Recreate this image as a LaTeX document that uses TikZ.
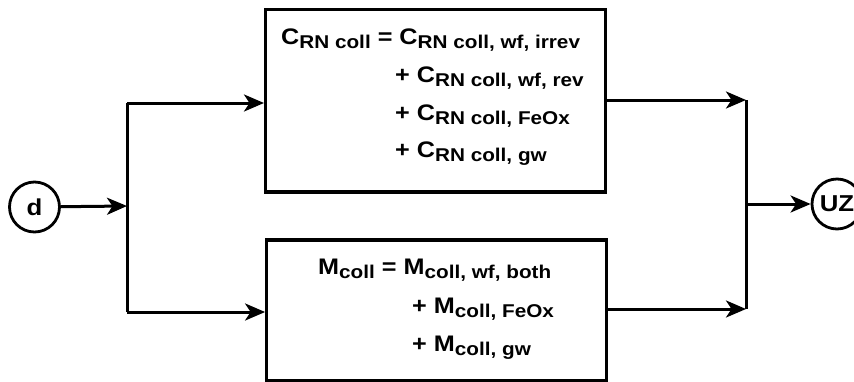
\documentclass[tikz,border=0pt]{standalone}
\usepackage{fontspec}
\setmainfont{Liberation Sans}[FakeStretch=1.12]
\usetikzlibrary{arrows.meta}
% lowered, smaller subscript text set in the same bold face
\newcommand\lowsub[1]{\raisebox{-4pt}{\fontsize{18.5}{18.5}\selectfont #1}}
\begin{document}
\begin{tikzpicture}[x=1pt,y=-1pt,
  conn/.style={line width=3pt},
  arr/.style={conn,-{Stealth[length=20pt,width=17pt,inset=5.5pt]}},
  blockbox/.style={draw,line width=3.2pt,inner sep=0pt},
  ring/.style={draw,circle,line width=2.8pt,minimum size=50pt,inner sep=0pt,
    font=\fontsize{23}{23}\selectfont\bfseries},
  eqline/.style={anchor=base west,inner sep=0pt,
    font=\fontsize{22.5}{22.5}\selectfont\bfseries}]
\useasboundingbox (0,0) rectangle (854,381);

% source and sink
\node[ring] (d) at (34.5,207) {d};
\node[ring] (uz) at (837,204) {UZ};

% the two balance blocks
\node[blockbox,minimum width=340pt,minimum height=182.5pt] (top) at (435.6,100.7) {};
\node[blockbox,minimum width=340pt,minimum height=141pt] (bot) at (436.7,310.5) {};

% equations in the upper block
\node[eqline] (t1) at (281,44) {C\lowsub{RN coll} = C\lowsub{RN coll, wf, irrev}};
\node[eqline] (t2) at (395,82) {+ C\lowsub{RN coll, wf, rev}};
\node[eqline] (t3) at (395,120) {+ C\lowsub{RN coll, FeOx}};
\node[eqline] (t4) at (395,157) {+ C\lowsub{RN coll, gw}};

% equations in the lower block
\node[eqline] (b1) at (318,274) {M\lowsub{coll} = M\lowsub{coll, wf, both}};
\node[eqline] (b2) at (412,313) {+ M\lowsub{coll, FeOx}};
\node[eqline] (b3) at (412,351) {+ M\lowsub{coll, gw}};

% splitting on the left
\coordinate (split) at (127,206);
\coordinate (sTop) at (127,103);
\coordinate (sBot) at (127,312);
\draw[arr] (d) -- (split);
\draw[conn] (sTop) -- (sBot);
\draw[arr] (sTop) -- (sTop -| top.west);
\draw[arr] (sBot) -- (sBot -| bot.west);

% merging on the right
\coordinate (mTop) at (746,100);
\coordinate (mBot) at (746,309);
\coordinate (merge) at (746,204);
\draw[arr] (mTop -| top.east) -- (mTop);
\draw[arr] (mBot -| bot.east) -- (mBot);
\draw[conn] (mTop) -- (mBot);
\draw[arr] (merge) -- (uz);
\end{tikzpicture}
\end{document}
